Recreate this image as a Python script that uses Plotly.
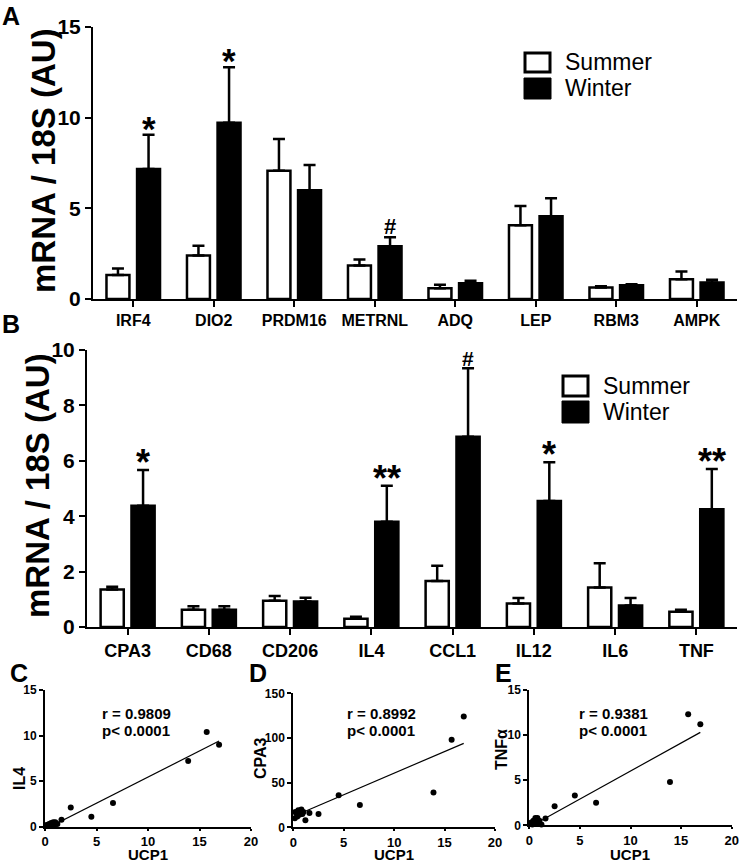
import plotly.graph_objects as go

# ---------------- data ----------------
cats_a = ["IRF4", "DIO2", "PRDM16", "METRNL", "ADQ", "LEP", "RBM3", "AMPK"]
summer_a = [1.33, 2.40, 7.07, 1.85, 0.59, 4.07, 0.63, 1.09]
summer_a_err = [0.35, 0.54, 1.76, 0.33, 0.19, 1.06, 0.07, 0.43]
winter_a = [7.17, 9.72, 6.00, 2.91, 0.87, 4.57, 0.76, 0.91]
winter_a_err = [1.89, 3.06, 1.39, 0.50, 0.13, 0.99, 0.05, 0.15]
marks_a = ["*", "*", "", "#", "", "", "", ""]
yticks_a = [0, 5, 10, 15]

cats_b = ["CPA3", "CD68", "CD206", "IL4", "CCL1", "IL12", "IL6", "TNF"]
summer_b = [1.35, 0.62, 0.95, 0.30, 1.66, 0.85, 1.43, 0.55]
summer_b_err = [0.10, 0.13, 0.17, 0.07, 0.55, 0.20, 0.87, 0.07]
winter_b = [4.38, 0.62, 0.92, 3.80, 6.87, 4.55, 0.78, 4.25]
winter_b_err = [1.29, 0.13, 0.14, 1.30, 2.47, 1.40, 0.27, 1.45]
marks_b = ["*", "", "", "**", "#", "*", "", "**"]
yticks_b = [0, 2, 4, 6, 8, 10]

ucp1 = [15.7, 16.9, 13.9, 6.6, 4.5, 2.5, 1.6, 1.2, 1.0, 0.9, 0.8, 0.7, 0.6, 0.5, 0.4, 0.3, 0.2, 0.15]
il4 = [10.4, 9.0, 7.2, 2.6, 1.1, 2.1, 0.75, 0.3, 0.5, 0.2, 0.5, 0.3, 0.4, 0.1, 0.3, 0.2, 0.1, 0.2]
cpa3 = [98, 124, 39, 25, 36, 15, 16, 8, 17, 15, 20, 18, 14, 19, 12, 16, 17, 10]
tnfa = [12.3, 11.2, 4.8, 2.5, 3.3, 2.1, 0.75, 0.1, 0.5, 0.3, 0.8, 0.6, 0.8, 0.2, 0.5, 0.1, 0.3, 0.2]

fit_x = [0.15, 16.9]
fit_il4 = [-0.2, 9.4]
fit_cpa3 = [13, 94]
fit_tnfa = [-0.1, 10.3]

stats_c = ["r = 0.9809", "p< 0.0001"]
stats_d = ["r = 0.8992", "p< 0.0001"]
stats_e = ["r = 0.9381", "p< 0.0001"]

# ---------------- helpers ----------------
W, H = 747, 862
FONT = "Liberation Sans, Arial, sans-serif"


def fx(px):
    return px / W


def fy(py):
    return 1 - py / H


BAR_W = 0.285
OFF_S = -0.19 - BAR_W / 2
OFF_W = 0.19 - BAR_W / 2

fig = go.Figure()


def add_bars(cats, s, se, w, we, xa, ya):
    fig.add_trace(go.Bar(
        x=cats, y=s, xaxis=xa, yaxis=ya, name="Summer",
        offset=OFF_S, width=BAR_W,
        marker=dict(color="white", line=dict(color="black", width=2.5)),
        error_y=dict(type="data", symmetric=False, array=se,
                     arrayminus=[0] * len(se), color="black", thickness=2.5, width=6),
        showlegend=False))
    fig.add_trace(go.Bar(
        x=cats, y=w, xaxis=xa, yaxis=ya, name="Winter",
        offset=OFF_W, width=BAR_W,
        marker=dict(color="black", line=dict(color="black", width=2.5)),
        error_y=dict(type="data", symmetric=False, array=we,
                     arrayminus=[0] * len(we), color="black", thickness=2.5, width=6),
        showlegend=False))


add_bars(cats_a, summer_a, summer_a_err, winter_a, winter_a_err, "x", "y")
add_bars(cats_b, summer_b, summer_b_err, winter_b, winter_b_err, "x2", "y2")


def add_scatter(xv, yv, fx_, fy_, xa, ya):
    fig.add_trace(go.Scatter(x=fx_, y=fy_, xaxis=xa, yaxis=ya, mode="lines",
                             line=dict(color="black", width=1.2), showlegend=False))
    fig.add_trace(go.Scatter(x=xv, y=yv, xaxis=xa, yaxis=ya, mode="markers",
                             marker=dict(color="black", size=6), cliponaxis=False,
                             showlegend=False))


add_scatter(ucp1, il4, fit_x, fit_il4, "x3", "y3")
add_scatter(ucp1, cpa3, fit_x, fit_cpa3, "x4", "y4")
add_scatter(ucp1, tnfa, fit_x, fit_tnfa, "x5", "y5")

annotations = []
bold = dict(family=FONT, color="black", weight="bold")


def sig(marks, w, we, xa, ya, star_size, hash_size):
    for i, m in enumerate(marks):
        if not m:
            continue
        if m == "#":
            sz, ys = hash_size, -4
        else:
            sz, ys = star_size, -int(round(star_size * 0.42))
        annotations.append(dict(
            x=i + 0.19, y=w[i] + we[i], xref=xa, yref=ya, text=m, showarrow=False,
            xanchor="center", yanchor="bottom", yshift=ys,
            font=dict(size=sz, **bold)))


sig(marks_a, winter_a, winter_a_err, "x", "y", 35, 22)
sig(marks_b, winter_b, winter_b_err, "x2", "y2", 36, 21)

# panel letters
for letter, px, py in [("A", 11, 16), ("B", 11, 324), ("C", 19, 673), ("D", 258, 673), ("E", 504, 673)]:
    annotations.append(dict(x=fx(px), y=fy(py), xref="paper", yref="paper", text=letter,
                            showarrow=False, xanchor="center", yanchor="middle",
                            font=dict(size=25, **bold)))

# y titles of bar panels
for px, py in [(44, 161), (38, 486)]:
    annotations.append(dict(x=fx(px), y=fy(py), xref="paper", yref="paper",
                            text="mRNA / 18S (AU)", textangle=-90, showarrow=False,
                            xanchor="center", yanchor="middle", font=dict(size=33, **bold)))

# scatter y titles
for txt, px, py in [("IL4", 19, 779), ("CPA3", 260, 758), ("TNFα", 501, 750)]:
    annotations.append(dict(x=fx(px), y=fy(py), xref="paper", yref="paper", text=txt,
                            textangle=-90, showarrow=False, xanchor="center", yanchor="middle",
                            font=dict(size=16, **bold)))

# scatter x titles
for px in [148, 394, 630]:
    annotations.append(dict(x=fx(px), y=fy(854), xref="paper", yref="paper", text="UCP1",
                            showarrow=False, xanchor="center", yanchor="middle",
                            font=dict(size=15, **bold)))

# stats text
for st, px in [(stats_c, 100), (stats_d, 345), (stats_e, 577)]:
    for j, line in enumerate(st):
        annotations.append(dict(x=fx(px), y=fy(713 + 17 * j), xref="paper", yref="paper",
                                text=line, showarrow=False, xanchor="left", yanchor="middle",
                                font=dict(size=15, **bold)))

# legends (boxes as shapes + text)
shapes = []
for (bx0, bx1, sy0, sy1, wy0, wy1, tx) in [(524, 551, 52, 73, 78, 99, 563),
                                            (562, 589, 375, 397, 401, 423, 601)]:
    shapes.append(dict(type="rect", xref="paper", yref="paper",
                       x0=fx(bx0 + 1), x1=fx(bx1 - 1), y0=fy(sy1 - 1), y1=fy(sy0 + 1),
                       fillcolor="white", line=dict(color="black", width=3)))
    shapes.append(dict(type="rect", xref="paper", yref="paper",
                       x0=fx(bx0), x1=fx(bx1), y0=fy(wy1), y1=fy(wy0),
                       fillcolor="black", line=dict(color="black", width=1)))
    for txt, cy in [("Summer", (sy0 + sy1) / 2), ("Winter", (wy0 + wy1) / 2)]:
        annotations.append(dict(x=fx(tx), y=fy(cy), xref="paper", yref="paper", text=txt,
                                showarrow=False, xanchor="left", yanchor="middle",
                                font=dict(size=23, family=FONT, color="black")))

axis_common = dict(showline=True, linecolor="black", ticks="outside", tickcolor="black",
                   showgrid=False, zeroline=False, fixedrange=True, automargin=False)


def btext(vals):
    return [f"<b>{v}</b>" for v in vals]


layout = dict(
    width=W, height=H, margin=dict(l=0, r=0, t=0, b=0, autoexpand=False),
    paper_bgcolor="white", plot_bgcolor="white", barmode="overlay", showlegend=False,
    annotations=annotations, shapes=shapes,
    xaxis=dict(domain=[fx(93), fx(737)], anchor="y", type="category", range=[-0.5, 7.5],
               linewidth=2, ticklen=6, tickwidth=2, tickfont=dict(size=16, **bold), **axis_common),
    yaxis=dict(domain=[fy(299), fy(27)], anchor="x", range=[0, 15],
               tickvals=yticks_a, ticktext=btext(yticks_a),
               linewidth=2, ticklen=6, tickwidth=2, tickfont=dict(size=21, **bold), **axis_common),
    xaxis2=dict(domain=[fx(87), fx(737)], anchor="y2", type="category", range=[-0.5, 7.5],
                linewidth=2, ticklen=6, tickwidth=2, tickfont=dict(size=18, **bold), **axis_common),
    yaxis2=dict(domain=[fy(627), fy(350)], anchor="x2", range=[0, 10],
                tickvals=yticks_b, ticktext=btext(yticks_b),
                linewidth=2, ticklen=6, tickwidth=2, tickfont=dict(size=21, **bold), **axis_common),
)

for k, (x0, x1, y0, y1, ymax, ydt) in zip(
        [3, 4, 5],
        [(45, 251, 826.7, 690, 15, 5), (293.3, 495, 827.3, 693.3, 150, 50),
         (529.3, 731.7, 825.3, 690, 15, 5)]):
    xt = [0, 5, 10, 15, 20]
    yt = [0, ydt, 2 * ydt, 3 * ydt]
    layout[f"xaxis{k}"] = dict(domain=[fx(x0), fx(x1)], anchor=f"y{k}", range=[0, 20],
                               tickvals=xt, ticktext=btext(xt),
                               linewidth=2, ticklen=2, tickwidth=2,
                               tickfont=dict(size=13, **bold), **axis_common)
    layout[f"yaxis{k}"] = dict(domain=[fy(y0), fy(y1)], anchor=f"x{k}", range=[0, ymax],
                               tickvals=yt, ticktext=btext(yt),
                               linewidth=2, ticklen=4, tickwidth=2,
                               tickfont=dict(size=12, **bold), **axis_common)

fig.update_layout(**layout)
fig.write_html("out.html", config={"displayModeBar": False},
               post_script="document.body.style.margin='0';document.body.style.overflow='hidden';")
